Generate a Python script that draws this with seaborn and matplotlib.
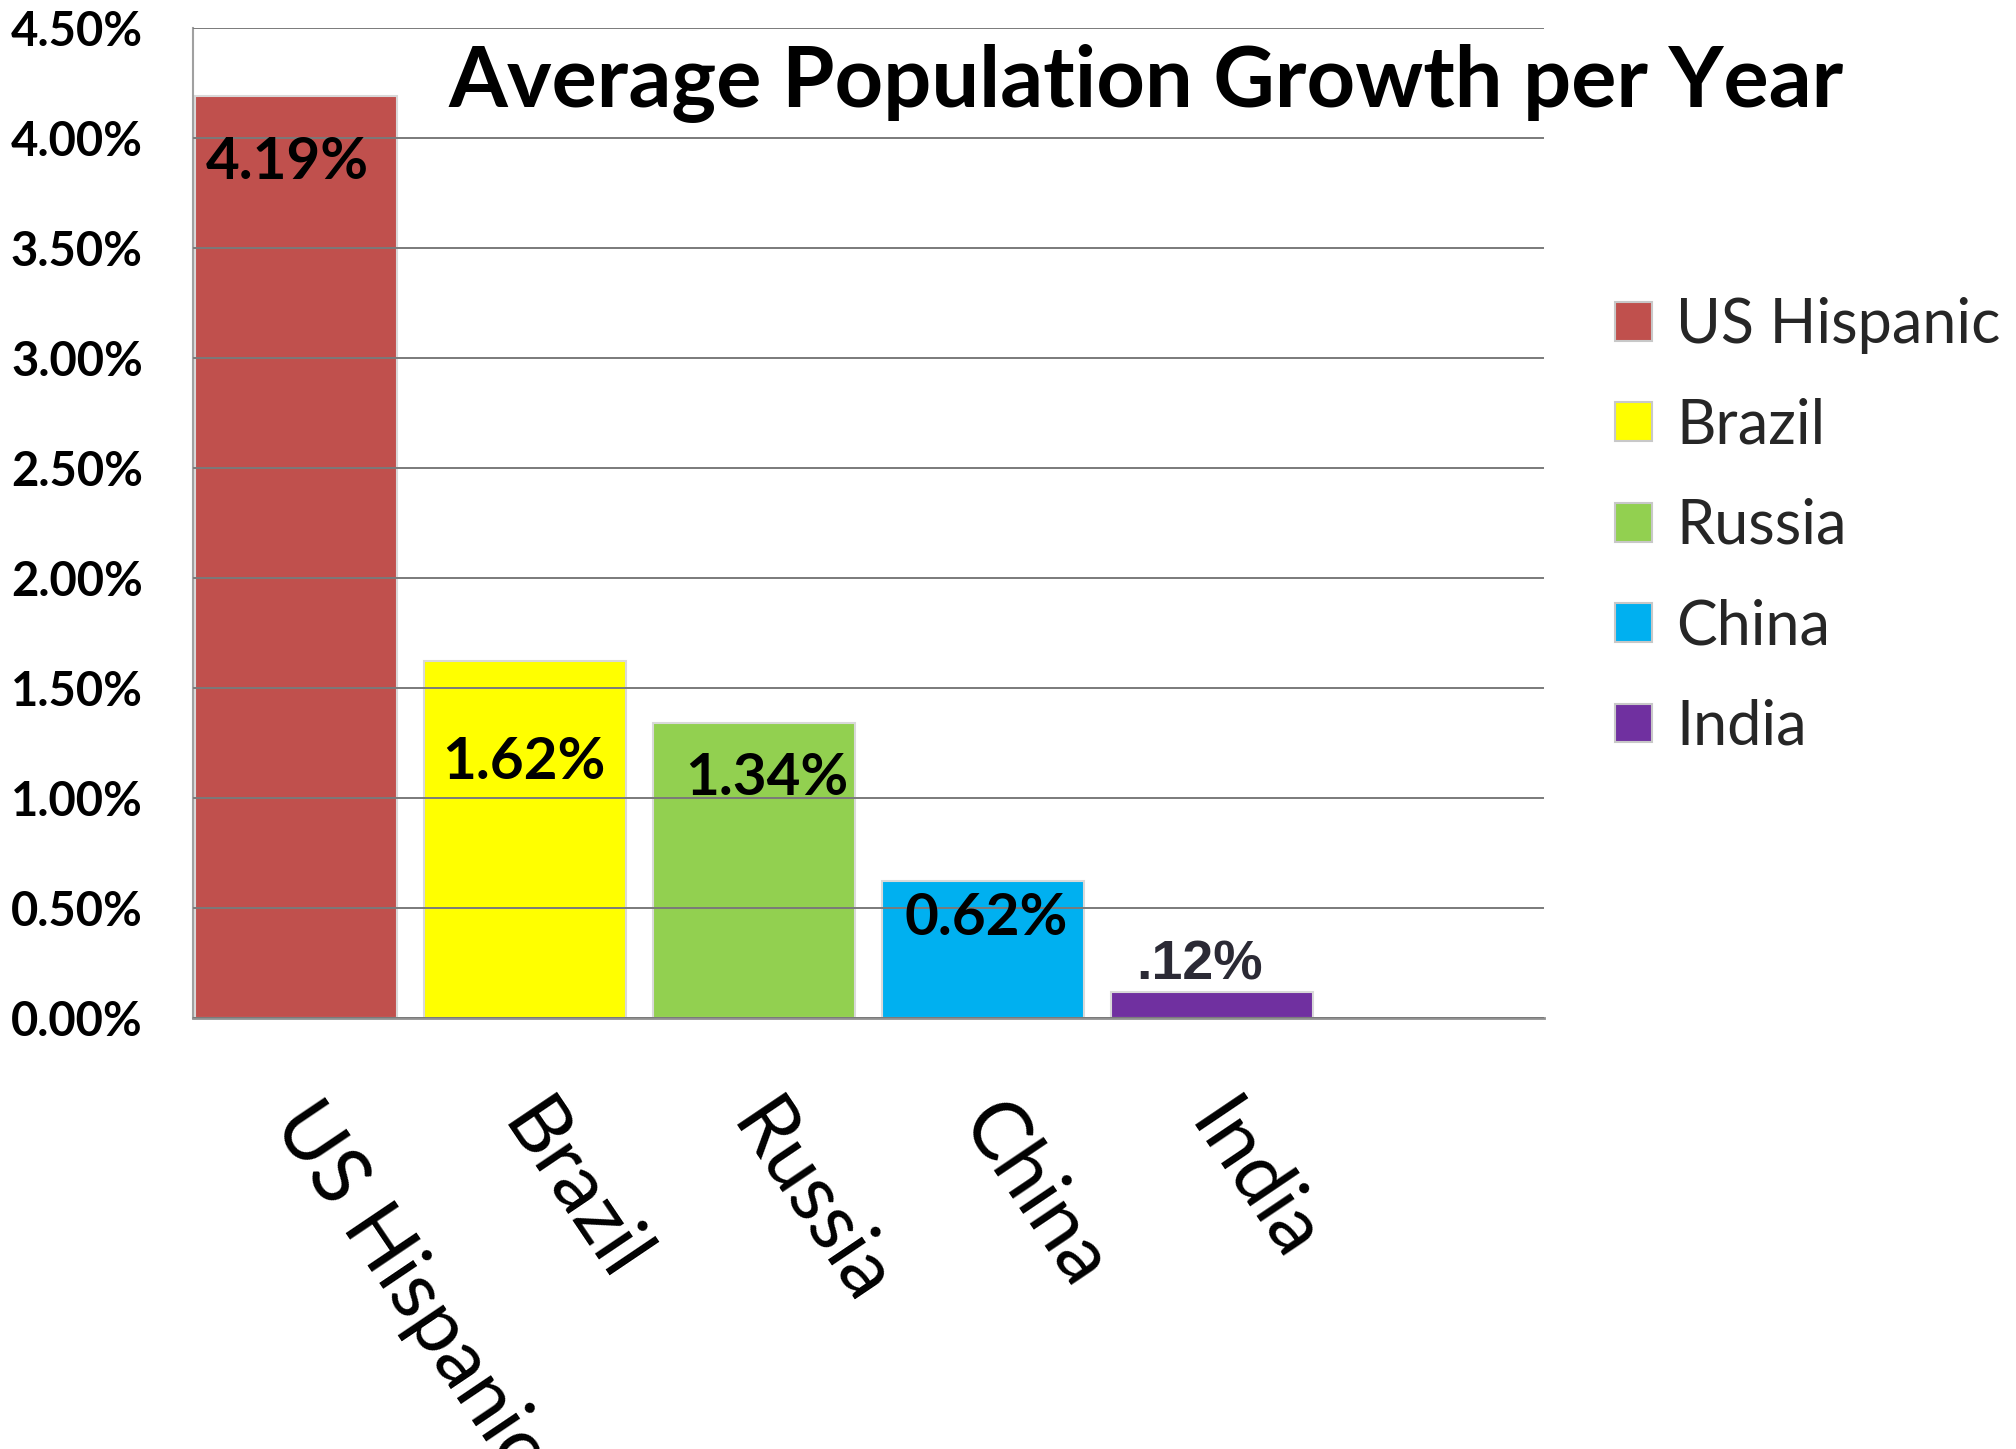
import matplotlib
matplotlib.use("Agg")
import matplotlib.pyplot as plt
import matplotlib.transforms as mtransforms
from matplotlib.ticker import FuncFormatter, MultipleLocator
from matplotlib.patches import Patch
import seaborn as sns
import pandas as pd

# ---- data ----
categories = ["US Hispanic", "Brazil", "Russia", "China", "India"]
growth_pct = [4.19, 1.62, 1.34, 0.62, 0.12]
value_labels = ["4.19%", "1.62%", "1.34%", "0.62%", ".12%"]
colors = ["#C0504D", "#FFFF00", "#92D050", "#00B0F0", "#7030A0"]
title = "Average Population Growth per Year"

# ---- layout/styling (not data) ----
label_offsets_pt = [-48, -73, -40, -27, 19]
label_dx_pt = [-6, -1, 9, 2, -9]

sns.set_theme(style="white")
plt.rcParams["font.family"] = ["Lato", "DejaVu Sans"]

df = pd.DataFrame({"country": categories, "growth": growth_pct})

fig = plt.figure(figsize=(20.16, 14.49), dpi=100)
ax = fig.add_axes([0.0957, 0.2975, 0.766 - 0.0957, 0.981 - 0.2975])

sns.barplot(data=df, x="country", y="growth", hue="country",
            palette=colors, dodge=False, width=0.88, legend=False,
            edgecolor="#d9d9d9", linewidth=1.5, saturation=1, ax=ax)

ax.set_xlim(-0.45, 5.45)
ax.set_ylim(0, 4.5)
ax.yaxis.set_major_locator(MultipleLocator(0.5))
ax.yaxis.set_major_formatter(FuncFormatter(lambda v, p: f"{v:.2f}%"))
ax.set_xlabel("")
ax.set_ylabel("")

ax.set_axisbelow(False)
ax.grid(axis="y", color="#7a7a7a", linewidth=1.4)
ax.grid(axis="x", visible=False)
for side in ["top", "right"]:
    ax.spines[side].set_visible(False)
ax.spines["left"].set_color("#a0a0a0")
ax.spines["left"].set_linewidth(1.5)
ax.spines["bottom"].set_color("#909090")
ax.spines["bottom"].set_linewidth(2.0)

ax.tick_params(axis="y", length=0, pad=36, labelsize=34)
for t in ax.get_yticklabels():
    t.set_fontweight("bold")
    t.set_color("black")

ax.tick_params(axis="x", length=0, pad=52, labelsize=58)
offset = mtransforms.ScaledTranslation(25 / 100, 0, fig.dpi_scale_trans)
for t in ax.get_xticklabels():
    t.set_rotation(-56)
    t.set_ha("left")
    t.set_va("top")
    t.set_rotation_mode("anchor")
    t.set_color("black")
    t.set_transform(t.get_transform() + offset)

# value labels
for i, (v, lab) in enumerate(zip(growth_pct, value_labels)):
    if i == len(growth_pct) - 1:
        ax.annotate(lab, (i, v), xytext=(label_dx_pt[i], label_offsets_pt[i]),
                    textcoords="offset points", ha="center", va="center",
                    fontsize=40, fontweight="bold", color="#2b2a35",
                    family=["Liberation Sans", "DejaVu Sans"], zorder=5)
    else:
        ax.annotate(lab, (i, v), xytext=(label_dx_pt[i], label_offsets_pt[i]),
                    textcoords="offset points", ha="center", va="center",
                    fontsize=42, fontweight="bold", color="black", zorder=5)

# title inside the plot area
ax.text(0.705, 0.944, title, transform=ax.transAxes,
        ha="center", va="center", fontsize=61, fontweight="bold", color="black")

# legend
handles = [Patch(facecolor=c, edgecolor="#c8c8c8", linewidth=1.5) for c in colors]
leg = fig.legend(handles, categories, loc="upper left",
                 bbox_to_anchor=(0.774, 0.833), frameon=False,
                 fontsize=44, handlelength=0.6, handleheight=0.6,
                 handletextpad=0.4, labelspacing=0.71)

fig.savefig("out.png", dpi=100)
